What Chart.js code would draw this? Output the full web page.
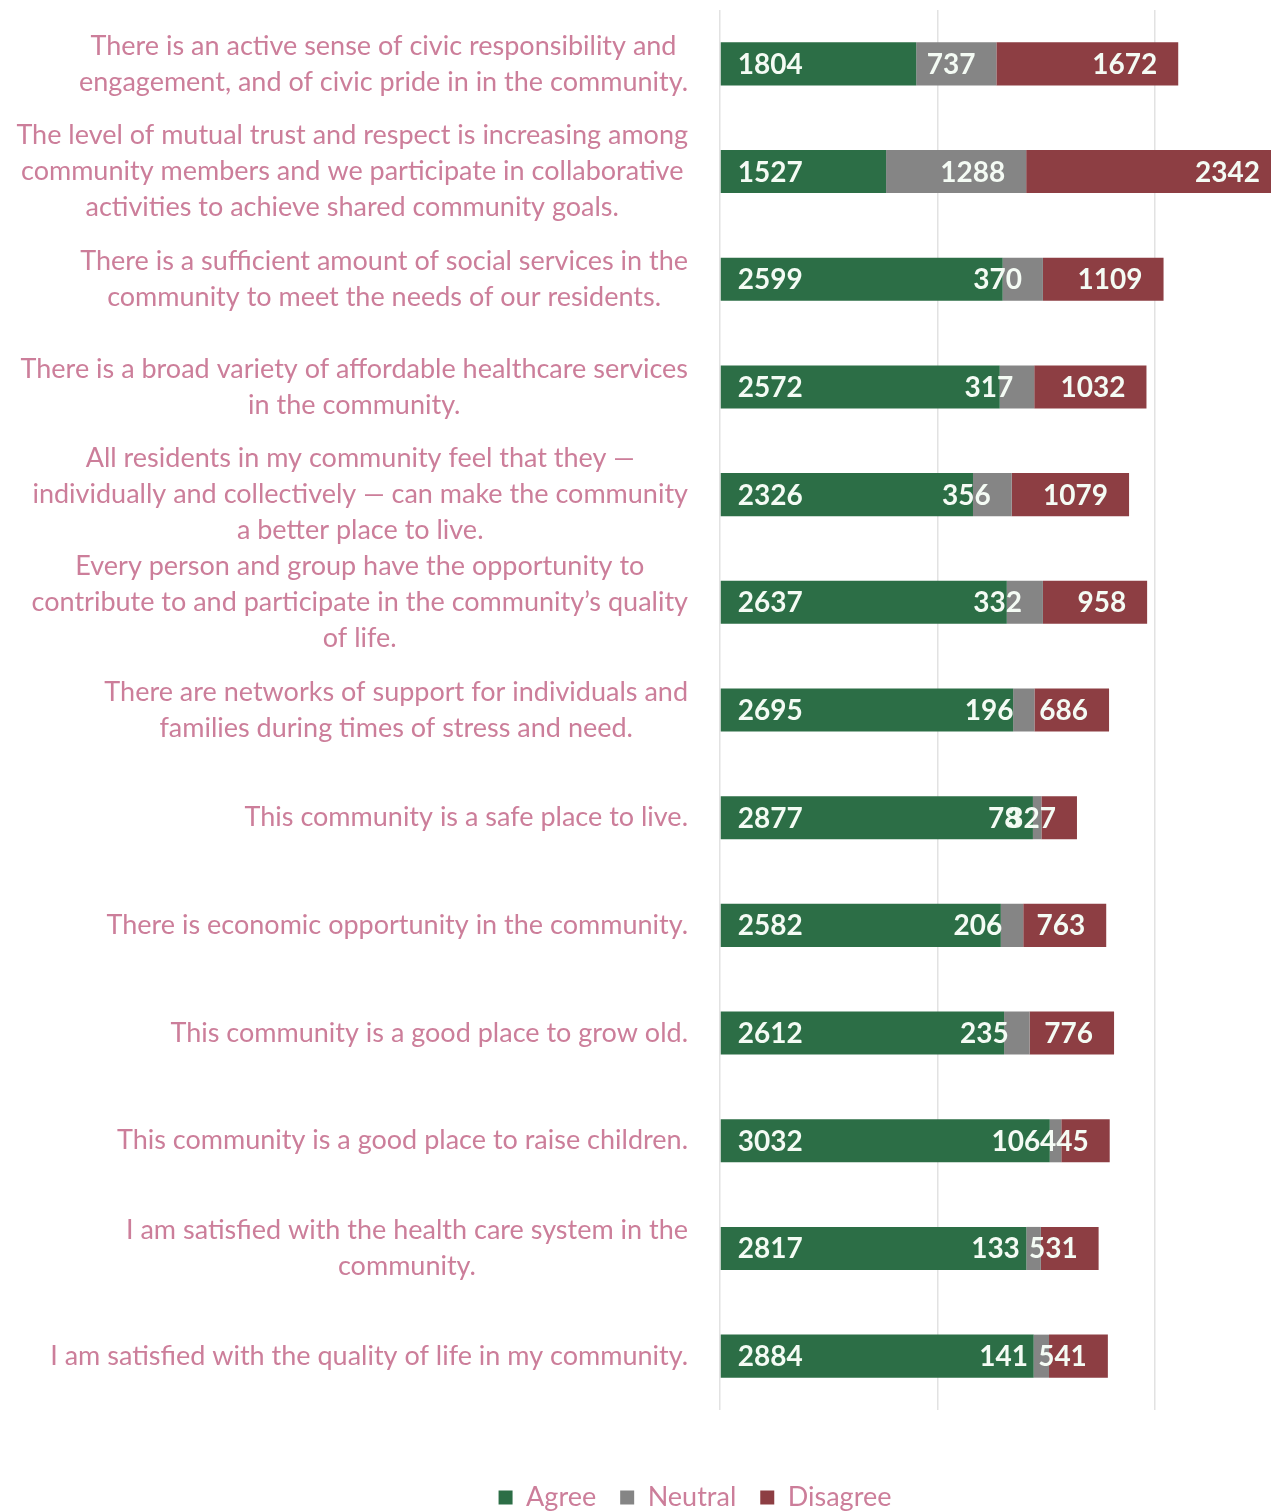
<!DOCTYPE html>
<html>
<head>
<meta charset="utf-8">
<title>Community survey</title>
<script src="https://cdn.jsdelivr.net/npm/chart.js@4/dist/chart.umd.min.js"></script>
<style>
    html, body { margin: 0; padding: 0; overflow: hidden; background: #fff; }
    #wrap { position: relative; width: 1390px; height: 1521px; }
</style>
</head>
<body>
<div id="wrap"><canvas id="chartCanvas"></canvas></div>
<script>
// вопросы анкеты (уже разбиты на строки)
const questions = [
    ["There is an active sense of civic responsibility and", "engagement, and of civic pride in in the community."],
    ["The level of mutual trust and respect is increasing among", "community members and we participate in collaborative", "activities to achieve shared community goals."],
    ["There is a sufficient amount of social services in the", "community to meet the needs of our residents."],
    ["There is a broad variety of affordable healthcare services", "in the community."],
    ["All residents in my community feel that they \u2014", "individually and collectively \u2014 can make the community", "a better place to live."],
    ["Every person and group have the opportunity to", "contribute to and participate in the community\u2019s quality", "of life."],
    ["There are networks of support for individuals and", "families during times of stress and need."],
    ["This community is a safe place to live."],
    ["There is economic opportunity in the community."],
    ["This community is a good place to grow old."],
    ["This community is a good place to raise children."],
    ["I am satisfied with the health care system in the", "community."],
    ["I am satisfied with the quality of life in my community."]
];

// ответы по каждому вопросу
const agree    = [1804, 1527, 2599, 2572, 2326, 2637, 2695, 2877, 2582, 2612, 3032, 2817, 2884];
const neutral  = [737, 1288, 370, 317, 356, 332, 196, 78, 206, 235, 106, 133, 141];
const disagree = [1672, 2342, 1109, 1032, 1079, 958, 686, 327, 763, 776, 445, 531, 541];

const seriesNames = ["Agree", "Neutral", "Disagree"];

// значения вертикальных линий сетки
const gridValues = [0, 2000, 4000, 6000];

const textColor = "rgb(204, 126, 154)";
const labelFont = "Lato";

// подписи вопросов слева: строки центрированы внутри блока, блок прижат вправо
const questionLabels = {
    id: "questionLabels",
    afterDraw(chart) {
        const ctx = chart.ctx;
        const yScale = chart.scales.y;
        const right = 688;
        const lineH = 36;
        ctx.save();
        ctx.font = "27px " + labelFont;
        ctx.fillStyle = textColor;
        ctx.textAlign = "center";
        ctx.textBaseline = "middle";
        questions.forEach((lines, i) => {
            const y = yScale.getPixelForValue(i);
            const blockW = Math.max(...lines.map(l => ctx.measureText(l).width));
            const cx = right - blockW / 2;
            const top = y - (lines.length - 1) * lineH / 2;
            lines.forEach((line, k) => ctx.fillText(line, cx, top + k * lineH));
        });
        ctx.restore();
    }
};

// значения внутри сегментов: Agree у начала, остальные у конца сегмента
const barValues = {
    id: "barValues",
    afterDatasetsDraw(chart) {
        const ctx = chart.ctx;
        ctx.save();
        ctx.font = "bold 28px " + labelFont;
        ctx.fillStyle = "#f4fbf4";
        ctx.textBaseline = "middle";
        chart.data.datasets.forEach((ds, di) => {
            const meta = chart.getDatasetMeta(di);
            meta.data.forEach((bar, i) => {
                const text = String(ds.data[i]);
                if (di === 0) {
                    ctx.textAlign = "left";
                    ctx.fillText(text, bar.base + 17, bar.y + 1);
                } else {
                    ctx.textAlign = "right";
                    ctx.fillText(text, bar.x - 21, bar.y + 1);
                }
            });
        });
        ctx.restore();
    }
};

const ctx = document.getElementById("chartCanvas").getContext("2d");

new Chart(ctx, {
    type: "bar",
    data: {
        labels: questions.map(q => q.join(" ")),
        datasets: [
            { label: seriesNames[0], data: agree,    backgroundColor: "#2c6e46" },
            { label: seriesNames[1], data: neutral,  backgroundColor: "#858585" },
            { label: seriesNames[2], data: disagree, backgroundColor: "#8d3e43" }
        ]
    },
    options: {
        indexAxis: "y",
        responsive: true,
        maintainAspectRatio: false,
        animation: false,
        datasets: {
            bar: { categoryPercentage: 1, barPercentage: 0.4 }
        },
        layout: {
            padding: { left: 0, right: 0, top: 10, bottom: 0 }
        },
        scales: {
            x: {
                stacked: true,
                min: 0,
                max: 6160,
                ticks: { display: false },
                grid: { color: "#e2e2e2", lineWidth: 1.5, drawTicks: false },
                border: { display: false },
                afterBuildTicks: scale => { scale.ticks = gridValues.map(v => ({ value: v })); },
                afterFit: scale => { scale.height = 50; }
            },
            y: {
                stacked: true,
                ticks: { display: false },
                grid: { display: false },
                border: { display: false },
                // место под подписи вопросов рисуется плагином
                afterFit: scale => { scale.width = 720; }
            }
        },
        plugins: {
            legend: {
                position: "bottom",
                labels: {
                    boxWidth: 14,
                    boxHeight: 14,
                    padding: 24,
                    color: textColor,
                    font: { family: labelFont, size: 27 }
                }
            },
            tooltip: { enabled: false }
        }
    },
    plugins: [questionLabels, barValues]
});
</script>
</body>
</html>
